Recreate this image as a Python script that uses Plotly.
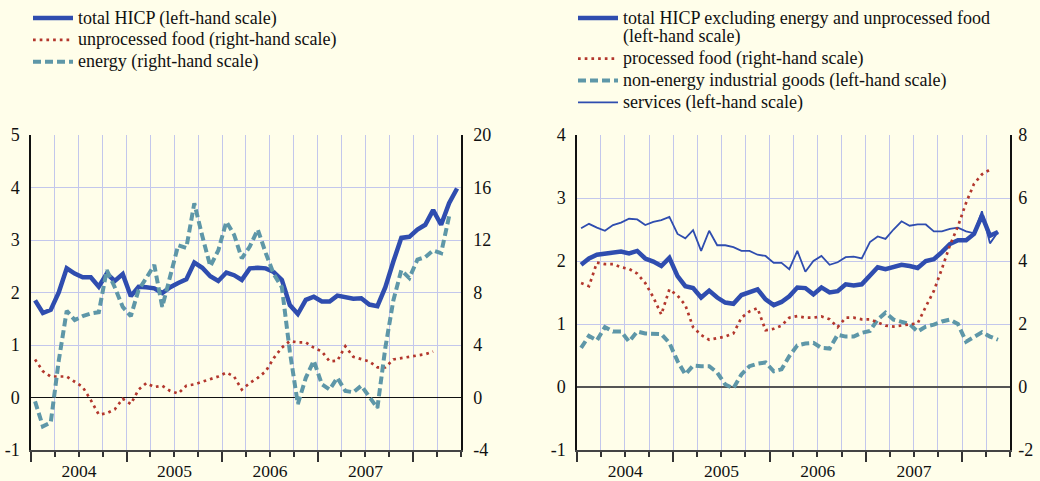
import pandas as pd
import plotly.graph_objects as go

# ---------------- data (annual % changes, monthly, Jan 2004 onwards) ----------------
months = pd.date_range("2004-01-01", periods=54, freq="MS").strftime("%Y-%m").tolist()

# left panel
total_hicp = [1.85, 1.61, 1.67, 2.0, 2.46, 2.36, 2.29, 2.29, 2.11, 2.36, 2.22, 2.35,
              1.93, 2.11, 2.1, 2.08, 1.99, 2.1, 2.18, 2.25, 2.57, 2.47, 2.31, 2.22,
              2.38, 2.33, 2.24, 2.46, 2.47, 2.46, 2.39, 2.24, 1.76, 1.59, 1.86, 1.92,
              1.83, 1.83, 1.94, 1.9, 1.88, 1.89, 1.77, 1.74, 2.1, 2.59, 3.04, 3.06,
              3.2, 3.29, 3.57, 3.29, 3.7, 3.98]
unprocessed_food = [2.9, 2.0, 1.6, 1.6, 1.6, 1.2, 0.8, -0.2, -1.3, -1.2, -0.9, -0.1,
                    -0.5, 0.6, 1.1, 0.8, 0.9, 0.5, 0.3, 0.9, 1.0, 1.2, 1.4, 1.6,
                    1.9, 1.6, 0.6, 1.1, 1.5, 2.0, 3.0, 3.8, 4.3, 4.2, 4.2, 3.8,
                    3.5, 2.75, 2.8, 3.9, 3.1, 2.9, 2.75, 2.3, 2.3, 2.9, 3.0, 3.05,
                    3.2, 3.3, 3.5]
energy = [-0.3, -2.2, -1.9, 2.8, 6.6, 5.9, 6.2, 6.4, 6.5, 9.7, 8.4, 6.9,
          6.2, 8.2, 9.1, 10.1, 6.9, 9.4, 11.6, 11.4, 14.8, 12.3, 10.0, 11.2,
          13.4, 12.4, 10.6, 11.5, 12.8, 11.0, 9.4, 8.4, 3.5, -0.5, 1.5, 2.8,
          1.0, 0.6, 1.5, 0.5, 0.4, 0.9, 0.0, -0.8, 3.8, 7.4, 9.7, 9.1,
          10.5, 10.7, 11.2, 11.0, 13.8]

# right panel
hicp_ex_energy_unproc = [1.94, 2.04, 2.1, 2.12, 2.13, 2.15, 2.12, 2.16, 2.04, 1.99, 1.92, 2.05,
                         1.76, 1.6, 1.57, 1.42, 1.53, 1.42, 1.34, 1.32, 1.46, 1.51, 1.55, 1.39,
                         1.3, 1.35, 1.44, 1.58, 1.57, 1.47, 1.58, 1.5, 1.52, 1.63, 1.61, 1.63,
                         1.76, 1.9, 1.87, 1.9, 1.94, 1.92, 1.89, 2.0, 2.03, 2.14, 2.27, 2.33,
                         2.33, 2.43, 2.72, 2.4, 2.46]
processed_food = [3.3, 3.2, 3.95, 3.9, 3.9, 3.8, 3.75, 3.6, 3.3, 2.85, 2.3, 3.1,
                  2.9, 2.6, 1.9, 1.65, 1.5, 1.55, 1.6, 1.7, 2.2, 2.4, 2.5, 1.8,
                  1.85, 1.95, 2.2, 2.25, 2.2, 2.2, 2.24, 2.15, 1.9, 2.2, 2.2, 2.15,
                  2.15, 2.05, 1.95, 1.92, 1.95, 1.97, 2.02, 2.55, 3.05, 3.75, 4.5, 5.1,
                  5.85, 6.45, 6.75, 6.9]
non_energy_goods = [0.62, 0.81, 0.74, 0.95, 0.88, 0.88, 0.72, 0.88, 0.85, 0.84, 0.84, 0.7,
                    0.41, 0.2, 0.34, 0.33, 0.33, 0.23, 0.04, -0.02, 0.2, 0.33, 0.37, 0.39,
                    0.25, 0.28, 0.49, 0.66, 0.69, 0.7, 0.62, 0.61, 0.83, 0.8, 0.8, 0.86,
                    0.89, 1.07, 1.18, 1.07, 1.03, 1.0, 0.88, 0.96, 0.99, 1.04, 1.07, 1.0,
                    0.72, 0.8, 0.87, 0.8, 0.75]
services = [2.52, 2.59, 2.53, 2.48, 2.57, 2.61, 2.67, 2.66, 2.57, 2.62, 2.65, 2.7,
            2.43, 2.36, 2.49, 2.16, 2.48, 2.25, 2.25, 2.22, 2.16, 2.16, 2.1, 2.08,
            1.97, 1.97, 1.87, 2.16, 1.83, 2.0, 2.08, 1.94, 1.98, 2.06, 2.07, 2.04,
            2.3, 2.39, 2.35, 2.5, 2.63, 2.56, 2.58, 2.58, 2.47, 2.47, 2.51, 2.53,
            2.47, 2.44, 2.79, 2.28, 2.46]

left_ticks = [-1, 0, 1, 2, 3, 4, 5]
left_right_ticks = [-4, 0, 4, 8, 12, 16, 20]
right_ticks = [-1, 0, 1, 2, 3, 4]
right_right_ticks = [-2, 0, 2, 4, 6, 8]

# ---------------- styling ----------------
BG = "#FFFEEA"
GRID = "#C3C7EC"
BLUE = "#2F4DAF"
TEAL = "#5E97A8"
RED = "#B3372D"
FONT = "Liberation Serif, Times New Roman, serif"
W, H = 1040, 481


def px_x(a, b):
    return [a / W, b / W]


def big(text):
    # legend label drawn at 18px while the legend rows keep a tighter pitch
    return "<br>".join('<span style="font-size:18px">%s</span>' % t for t in text.split("<br>"))


ydom = [1 - 450 / H, 1 - 135 / H]

fig = go.Figure()


def add(name, vals, xa, ya, color, width, dash, legend):
    fig.add_trace(go.Scatter(
        x=months[:len(vals)], y=vals, name=big(name), mode="lines",
        xaxis=xa, yaxis=ya, legend=legend,
        xperiod="M1", xperiodalignment="middle",
        line=dict(color=color, width=width, dash=dash),
    ))


add("total HICP (left-hand scale)", total_hicp, "x", "y", BLUE, 4.5, "solid", "legend")
add("unprocessed food (right-hand scale)", unprocessed_food, "x", "y2", RED, 2.7, "2.7px,4px", "legend")
add("energy (right-hand scale)", energy, "x", "y2", TEAL, 4, "8px,4px", "legend")

add("total HICP excluding energy and unprocessed food<br>(left-hand scale)", hicp_ex_energy_unproc,
    "x2", "y3", BLUE, 4.5, "solid", "legend2")
add("processed food (right-hand scale)", processed_food, "x2", "y4", RED, 2.7, "2.7px,4px", "legend2")
add("non-energy industrial goods (left-hand scale)", non_energy_goods, "x2", "y3", TEAL, 4, "8px,4px", "legend2")
add("services (left-hand scale)", services, "x2", "y3", BLUE, 1.8, "solid", "legend2")

xcommon = dict(
    type="date", range=["2004-01-01", "2008-07-01"],
    dtick="M12", tick0="2004-01-01", ticklabelmode="period", tickformat="%Y",
    ticks="outside", ticklen=10, tickwidth=1.5, tickcolor="#333",
    ticklabelstandoff=-6,
    showgrid=True, gridcolor=GRID, gridwidth=1,
    minor=dict(dtick="M3", ticks="outside", ticklen=5, tickwidth=1.5, tickcolor="#333",
               showgrid=True, gridcolor=GRID, gridwidth=1),
    showline=True, linecolor="#444", linewidth=1.5,
    tickfont=dict(family=FONT, size=17.5, color="#111"),
    fixedrange=True,
)

ycommon = dict(
    tickmode="array", ticks="", tickfont=dict(family=FONT, size=18, color="#111"),
    showline=True, linecolor="#111", linewidth=1.5, fixedrange=True,
)

legend_common = dict(
    xanchor="left", yanchor="top", y=1 - 2 / H, valign="top",
    bgcolor="rgba(0,0,0,0)", font=dict(family=FONT, size=14.5, color="#111"),
    tracegroupgap=0, traceorder="normal", itemwidth=40,
)

fig.update_layout(
    width=W, height=H,
    margin=dict(l=0, r=0, t=0, b=0, autoexpand=False),
    paper_bgcolor=BG, plot_bgcolor=BG,
    font=dict(family=FONT, size=18, color="#111"),
    xaxis=dict(domain=px_x(31, 461), anchor="y", **xcommon),
    xaxis2=dict(domain=px_x(577, 1010), anchor="y3", **xcommon),
    yaxis=dict(domain=ydom, anchor="x", range=[-1, 5],
               tickvals=left_ticks, ticktext=[str(v) for v in left_ticks],
               showgrid=True, gridcolor=GRID, gridwidth=1,
               zeroline=True, zerolinecolor="#111", zerolinewidth=1.2,
               ticklabelstandoff=6, **ycommon),
    yaxis2=dict(overlaying="y", side="right", anchor="x", range=[-4, 20],
                tickvals=left_right_ticks, ticktext=[str(v) for v in left_right_ticks],
                showgrid=False, zeroline=False, ticklabelstandoff=7, **ycommon),
    yaxis3=dict(domain=ydom, anchor="x2", range=[-1, 4],
                tickvals=right_ticks, ticktext=[str(v) for v in right_ticks],
                showgrid=True, gridcolor=GRID, gridwidth=1,
                zeroline=True, zerolinecolor="#555", zerolinewidth=2,
                ticklabelstandoff=6, **ycommon),
    yaxis4=dict(overlaying="y3", side="right", anchor="x2", range=[-2, 8],
                tickvals=right_right_ticks, ticktext=[str(v) for v in right_right_ticks],
                showgrid=False, zeroline=False, ticklabelstandoff=3, **ycommon),
    legend=dict(x=28 / W, **legend_common),
    legend2=dict(x=573 / W, **legend_common),
    showlegend=True,
)

fig.write_html(
    "out.html",
    config={"displayModeBar": False},
    post_script="document.body.style.margin='0';document.body.style.padding='0';"
                "document.body.style.overflow='hidden';",
)
